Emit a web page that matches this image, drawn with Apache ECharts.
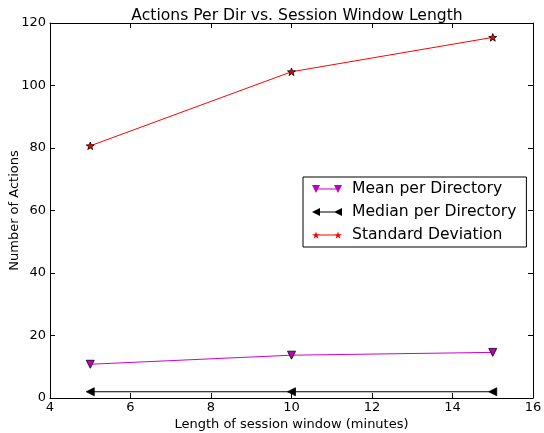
<!DOCTYPE html>
<html><head><meta charset="utf-8">
<script src="https://cdn.jsdelivr.net/npm/echarts@6/dist/echarts.min.js"></script>
<style>html,body{margin:0;padding:0;background:#fff}#c{width:544px;height:433px}</style>
</head><body><div id="c"></div>
<script>
const windowLengths = [5, 10, 15];
const meanPerDir = [10.8, 13.7, 14.6];
const medianPerDir = [2.0, 2.0, 2.0];
const stdDev = [80.7, 104.4, 115.4];
const xTicks = [4, 6, 8, 10, 12, 14, 16];
const yTicks = [0, 20, 40, 60, 80, 100, 120];

const star = 'path://M0,-10 L2.35,-3.24 L9.51,-3.09 L3.8,1.24 L5.88,8.09 L0,4 L-5.88,8.09 L-3.8,1.24 L-9.51,-3.09 L-2.35,-3.24 Z';
function starAt(cx, cy, r) {
  const p = [[0,-10],[2.35,-3.24],[9.51,-3.09],[3.8,1.24],[5.88,8.09],[0,4],[-5.88,8.09],[-3.8,1.24],[-9.51,-3.09],[-2.35,-3.24]];
  return 'M' + p.map(q => (cx + q[0] * r / 10).toFixed(2) + ',' + (cy + q[1] * r / 10).toFixed(2)).join(' L') + ' Z';
}
const lineRect = 'M4,4.5 L26,4.5 L26,5.5 L4,5.5 Z';
const iconMean = 'path://M0,1 L8,1 L4,9 Z M22,1 L30,1 L26,9 Z ' + lineRect + ' M0,0 L0.01,0 Z M29.99,10 L30,10 Z';
const iconMedian = 'path://M0,5 L8,1 L8,9 Z M22,5 L30,1 L30,9 Z ' + lineRect + ' M0,0 L0.01,0 Z M29.99,10 L30,10 Z';
const iconStd = 'path://' + starAt(4, 5.5, 4) + ' ' + starAt(26, 5.5, 4) + ' ' + lineRect + ' M0,0 L0.01,0 Z M29.99,10 L30,10 Z';

const font = 'DejaVu Sans';
const pairs = arr => windowLengths.map((x, i) => [x, arr[i]]);

const axisCommon = {
  axisLine: {show: true, onZero: false, lineStyle: {color: '#000', width: 1}},
  axisTick: {show: true, inside: true, length: 5, lineStyle: {color: '#000'}},
  splitLine: {show: false},
};
const chart = echarts.init(document.getElementById('c'));
chart.setOption({
  animation: false,
  textStyle: {fontFamily: font},
  title: {text: 'Actions Per Dir vs. Session Window Length', left: 292, textAlign: 'center', top: 3,
    textStyle: {fontFamily: font, fontSize: 15.6, fontWeight: 'normal', color: '#000'}},
  grid: {left: 50, right: 11, top: 23, bottom: 35, containLabel: false, outerBoundsMode: 'none'},
  legend: {
    orient: 'vertical', left: 303, top: 177,
    backgroundColor: '#fff', borderColor: '#000', borderWidth: 1, borderRadius: 0,
    padding: [4, 10, 4, 9], itemGap: 7, itemWidth: 30, itemHeight: 10,
    textStyle: {fontFamily: font, fontSize: 15.6, lineHeight: 16, color: '#000', padding: [0, 0, 0, 5]},
    data: [
      {name: 'Mean per Directory', icon: iconMean, itemStyle: {color: '#bf00bf', borderWidth: 0}},
      {name: 'Median per Directory', icon: iconMedian, itemStyle: {color: '#000', borderWidth: 0}},
      {name: 'Standard Deviation', icon: iconStd, itemStyle: {color: '#ff0000', borderWidth: 0}}
    ]
  },
  xAxis: [
    Object.assign({type: 'value', min: 4, max: 16, interval: 2, position: 'bottom',
      name: 'Length of session window (minutes)', nameLocation: 'middle', nameGap: 20,
      nameMoveOverlap: false,
      nameTextStyle: {fontFamily: font, fontSize: 13, color: '#000'},
      axisLabel: {fontFamily: font, fontSize: 13, color: '#000', margin: 3,
        formatter: v => xTicks.includes(v) ? String(v) : ''}}, axisCommon),
    Object.assign({type: 'value', min: 4, max: 16, interval: 2, position: 'top',
      axisLabel: {show: false}}, axisCommon)
  ],
  yAxis: [
    Object.assign({type: 'value', min: 0, max: 120, interval: 20, position: 'left',
      name: 'Number of Actions', nameLocation: 'middle', nameGap: 29, nameRotate: 90,
      nameMoveOverlap: false,
      nameTextStyle: {fontFamily: font, fontSize: 13, color: '#000', verticalAlign: 'bottom'},
      axisLabel: {fontFamily: font, fontSize: 13, color: '#000', margin: 4,
        formatter: v => yTicks.includes(v) ? String(v) : ''}}, axisCommon),
    Object.assign({type: 'value', min: 0, max: 120, interval: 20, position: 'right',
      axisLabel: {show: false}}, axisCommon)
  ],
  series: [
    {name: 'Mean per Directory', type: 'line', data: pairs(meanPerDir),
      symbol: 'triangle', symbolSize: 8, symbolRotate: 180,
      lineStyle: {color: '#cc00cc', width: 1},
      itemStyle: {color: '#bf00bf', borderColor: '#000', borderWidth: 0.8}},
    {name: 'Median per Directory', type: 'line', data: pairs(medianPerDir),
      symbol: 'triangle', symbolSize: 8, symbolRotate: 90,
      lineStyle: {color: '#000', width: 1},
      itemStyle: {color: '#000', borderColor: '#000', borderWidth: 0.8}},
    {name: 'Standard Deviation', type: 'line', data: pairs(stdDev),
      symbol: star, symbolSize: 8, symbolKeepAspect: true,
      lineStyle: {color: '#ff0000', width: 1},
      itemStyle: {color: '#ff0000', borderColor: '#000', borderWidth: 0.8}}
  ]
});
</script></body></html>
